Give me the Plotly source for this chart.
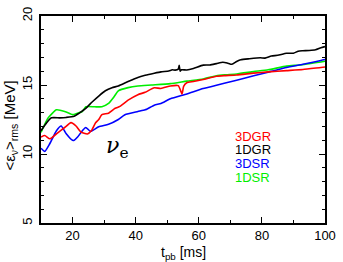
import plotly.graph_objects as go

# 1DGR (black)
x_1dgr = [10, 11.8, 13.3, 15.9, 18, 20.5, 22, 24.2, 26.2, 28.3, 30.4, 32.5, 34.5, 37.6, 40.7, 43, 45.9, 48, 50.5, 51.6, 52.5, 53.5, 53.8, 54.1, 54.5, 56.2, 58.3, 61.4, 63.5, 65.6, 67.6, 69, 70.5, 72, 73.3, 76, 79.5, 81, 83, 85, 87.8, 90, 91.5, 93, 95, 97, 98.7, 100]
y_1dgr = [11.69, 12.27, 12.62, 12.62, 12.65, 12.73, 12.95, 13.31, 13.77, 14.2, 14.58, 14.8, 14.93, 15.25, 15.55, 15.7, 15.85, 15.95, 16.02, 16.1, 16.08, 16.15, 16.42, 16.0, 16.1, 16.09, 16.2, 16.44, 16.45, 16.55, 16.65, 16.6, 16.5, 16.7, 16.83, 16.9, 16.97, 16.95, 17.1, 17.15, 17.3, 17.3, 17.45, 17.48, 17.5, 17.55, 17.7, 17.78]

# 1DSR (green)
x_1dsr = [10, 12.3, 14.9, 17.5, 19.4, 20, 21.5, 23.1, 24.2, 27, 29.3, 31.4, 33, 34.5, 37.6, 40.7, 45, 51, 56.2, 61.4, 65.6, 68.7, 72, 77.4, 82, 87.8, 92, 95, 98.7, 100]
y_1dsr = [11.57, 12.62, 13.2, 13.08, 12.9, 12.85, 12.95, 13.08, 13.42, 13.42, 13.42, 13.66, 14.1, 14.58, 14.81, 14.93, 15.0, 15.1, 15.28, 15.44, 15.67, 15.74, 15.8, 15.97, 16.1, 16.37, 16.45, 16.55, 16.67, 16.72]

# 3DGR (red)
x_3dgr = [10, 11.2, 12.8, 14.9, 17.5, 19.5, 21.1, 22.6, 24.7, 26, 27.3, 28.3, 29.3, 31.4, 33.5, 35, 37.6, 40.7, 43, 45.9, 48, 51, 53.5, 54.7, 55.2, 56.2, 58.3, 61.4, 65.6, 68, 72, 77.4, 82, 87.8, 93, 98.7, 100]
y_3dgr = [11.23, 11.34, 11.1, 11.46, 11.92, 12.27, 12.03, 11.6, 11.45, 11.7, 12.27, 12.5, 12.85, 12.96, 13.31, 13.45, 13.9, 14.3, 14.47, 14.8, 14.75, 14.93, 14.95, 14.35, 14.9, 15.16, 15.25, 15.4, 15.63, 15.68, 15.72, 15.86, 15.95, 16.04, 16.12, 16.27, 16.3]

# 3DSR (blue)
x_3dsr = [10, 11.2, 12.8, 14.9, 16.4, 18, 20, 20.5, 21.6, 23.1, 24.2, 25.7, 28.3, 31.4, 34.5, 36.6, 40.7, 43, 45.9, 48, 51, 56.2, 61.4, 65.6, 68.7, 72, 77.4, 82.6, 87.8, 93, 98.7, 100]
y_3dsr = [10.42, 10.19, 10.76, 11.69, 12.03, 11.46, 10.99, 11.0, 11.23, 11.69, 11.92, 11.64, 11.97, 12.15, 12.5, 12.85, 13.08, 13.2, 13.54, 13.66, 14.0, 14.35, 14.74, 14.98, 15.16, 15.35, 15.67, 15.97, 16.27, 16.5, 16.78, 16.85]

legend_labels = ["3DGR", "1DGR", "3DSR", "1DSR"]
legend_colors = ["#ff0000", "#000000", "#0000ff", "#00ee00"]

x_ticks = [20, 40, 60, 80, 100]
y_ticks = [5, 10, 15, 20]

FONT = "Liberation Sans, Arial, sans-serif"

fig = go.Figure()
series = [
    (x_1dsr, y_1dsr, "#00ee00"),
    (x_3dsr, y_3dsr, "#0000ff"),
    (x_3dgr, y_3dgr, "#ff0000"),
    (x_1dgr, y_1dgr, "#000000"),
]
for xs, ys, c in series:
    fig.add_trace(go.Scatter(x=xs, y=ys, mode="lines",
                             line=dict(color=c, width=1.6, shape="spline", smoothing=0.5),
                             showlegend=False, hoverinfo="skip"))

for i, (lab, col) in enumerate(zip(legend_labels, legend_colors)):
    fig.add_annotation(x=71, y=11.3 - i * 0.99, xref="x", yref="y", text=lab,
                       showarrow=False, xanchor="left", yanchor="middle",
                       font=dict(family=FONT, size=13, color=col))

fig.add_annotation(x=30, y=10.45, xref="x", yref="y",
                   text="<i>ν</i><sub>e</sub>", showarrow=False,
                   xanchor="left", yanchor="middle",
                   font=dict(family="DejaVu Serif, serif", size=22, color="#000000"))

# axis titles
fig.add_annotation(x=0.5, y=-0.145, xref="paper", yref="paper", yanchor="middle",
                   text="t<sub>pb</sub> [ms]", showarrow=False,
                   font=dict(family=FONT, size=14, color="black"))
fig.add_annotation(x=-0.108, y=0.472, xref="paper", yref="paper", xanchor="center",
                   text="&lt;ε<sub>ν</sub>&gt;<sub>rms</sub> [MeV]", showarrow=False, textangle=-90,
                   font=dict(family=FONT, size=15, color="black"))

axis_common = dict(showline=True, linecolor="black", linewidth=1.5, mirror="allticks",
                   ticks="inside", ticklen=6, tickwidth=1.2, tickcolor="black",
                   showgrid=False, zeroline=False, ticklabeloverflow="allow",
                   tickfont=dict(family=FONT, size=13, color="black"))

fig.update_xaxes(range=[10, 100], tickvals=x_ticks, ticktext=[str(v) for v in x_ticks],
                 minor=dict(dtick=10, tick0=0, ticks="inside", ticklen=3, tickcolor="black", tickwidth=1),
                 **axis_common)
fig.update_yaxes(range=[5, 20], tickvals=y_ticks, ticktext=[str(v) for v in y_ticks], tickangle=-90,
                 ticklabelstandoff=2,
                 minor=dict(dtick=1, tick0=0, ticks="inside", ticklen=3, tickcolor="black", tickwidth=1),
                 **axis_common)

fig.update_layout(width=343, height=262, margin=dict(l=41, r=12, t=7, b=39),
                  plot_bgcolor="white", paper_bgcolor="white")

fig.write_html("out.html", config={"displayModeBar": False},
               post_script="document.body.style.margin='0';document.body.style.padding='0';")
